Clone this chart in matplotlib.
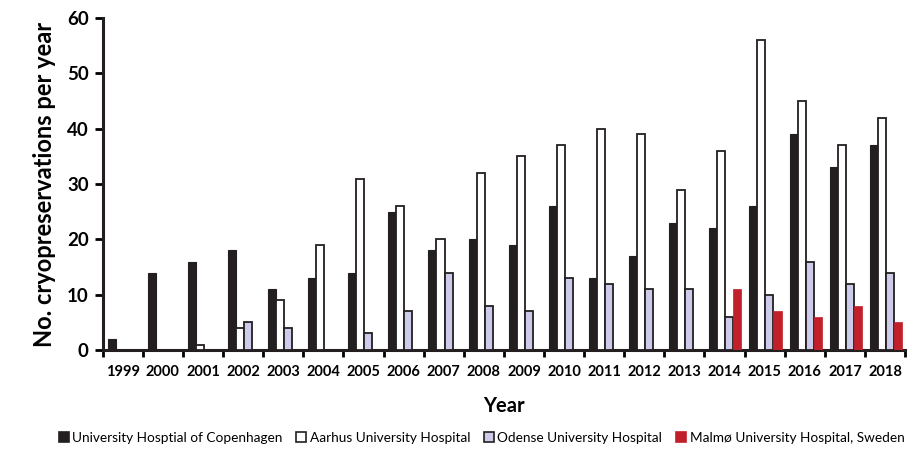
import numpy as np
import matplotlib.pyplot as plt
from matplotlib.patches import Patch

years = [str(y) for y in range(1999, 2019)]
copenhagen = [2, 14, 16, 18, 11, 13, 14, 25, 18, 20, 19, 26, 13, 17, 23, 22, 26, 39, 33, 37]
aarhus = [0, 0, 1, 4, 9, 19, 31, 26, 20, 32, 35, 37, 40, 39, 29, 36, 56, 45, 37, 42]
odense = [0, 0, 0, 5, 4, 0, 3, 7, 14, 8, 7, 13, 12, 11, 11, 6, 10, 16, 12, 14]
malmo = [0, 0, 0, 0, 0, 0, 0, 0, 0, 0, 0, 0, 0, 0, 0, 11, 7, 6, 8, 5]
names = ["University Hosptial of Copenhagen", "Aarhus University Hospital",
         "Odense University Hospital", "Malmø University Hospital, Sweden"]

plt.rcParams['font.family'] = ['Lato', 'DejaVu Sans']

fig = plt.figure(figsize=(9.17, 4.5), dpi=100)
ax = fig.add_axes([0.112, 0.222, 0.875, 0.738])

x = np.arange(len(years)) + 0.5
w = 0.2
styles = [
    dict(color='#231f20', edgecolor='#231f20', linewidth=0.8),
    dict(color='white', edgecolor='#231f20', linewidth=1.3),
    dict(color='#ccccea', edgecolor='#231f20', linewidth=1.3),
    dict(color='#c1202b', edgecolor='#c1202b', linewidth=0.5),
]
offsets = [-0.28, -0.08, 0.12, 0.32]
for data, off, st in zip([copenhagen, aarhus, odense, malmo], offsets, styles):
    vals = np.array(data, dtype=float)
    mask = vals > 0
    ax.bar(x[mask] + off, vals[mask], width=w, zorder=3, **st)

ax.set_xlim(0, len(years))
ax.set_ylim(0, 60)
ax.set_yticks(range(0, 61, 10))
ax.set_xticks(np.arange(len(years) + 1))
ax.set_xticklabels([])
ax.set_xticks(x, minor=True)
ax.set_xticklabels(years, minor=True, fontsize=10.5, fontweight='bold')
ax.tick_params(axis='x', which='minor', length=0, pad=11)
ax.tick_params(axis='x', which='major', length=5, width=2, direction='out')
ax.tick_params(axis='y', length=6, width=2, direction='out', labelsize=13.5, pad=4)
for lab in ax.get_yticklabels():
    lab.set_fontweight('bold')

for s in ['top', 'right']:
    ax.spines[s].set_visible(False)
for s in ['left', 'bottom']:
    ax.spines[s].set_linewidth(2.2)
    ax.spines[s].set_color('#231f20')

ax.set_ylabel("No. cryopreservations per year", fontsize=17, fontweight='bold', labelpad=8)
ax.set_xlabel("Year", fontsize=14.5, fontweight='bold', labelpad=12)

handles = [Patch(facecolor=st['color'], edgecolor=st['edgecolor'], linewidth=1.2) for st in styles]
fig.legend(handles, names, loc='center', bbox_to_anchor=(0.525, 0.027), ncol=4,
           frameon=False, fontsize=9.8, handlelength=0.75, handleheight=0.75,
           handletextpad=0.25, columnspacing=1.0)

fig.savefig("out.png", dpi=100)
